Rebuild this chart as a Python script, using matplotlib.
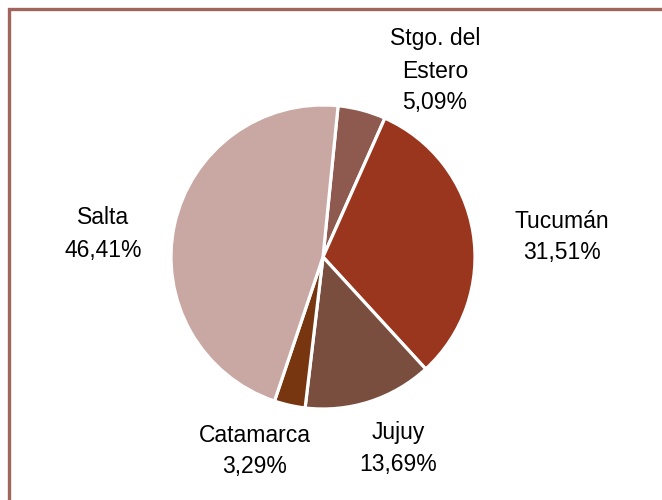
import matplotlib.pyplot as plt
from matplotlib.patches import Rectangle

plt.rcParams['font.family'] = ['Liberation Sans', 'DejaVu Sans']

provincias = ['Stgo. del\nEstero', 'Tucumán', 'Jujuy', 'Catamarca', 'Salta']
porcentajes = [5.09, 31.51, 13.69, 3.29, 46.41]
colores = ['#8E5A50', '#9A361E', '#7A4E3E', '#77360F', '#C9A8A4']

# posiciones de las etiquetas (pixeles, origen abajo-izquierda)
pos_etiquetas = [(435, 429), (562, 263), (398, 51), (255, 49), (103, 266)]

fig = plt.figure(figsize=(6.62, 5), dpi=100)
ax = fig.add_axes([0, 0, 1, 1])

ax.pie(porcentajes, colors=colores, startangle=84.3, counterclock=False,
       center=(323, 243), radius=152,
       wedgeprops=dict(edgecolor='white', linewidth=2.3))
ax.set_xlim(0, 662)
ax.set_ylim(0, 500)
ax.set_aspect('auto')
ax.axis('off')

for nombre, p, (x, y) in zip(provincias, porcentajes, pos_etiquetas):
    txt = nombre + '\n' + f'{p:.2f}'.replace('.', ',') + '%'
    ax.text(x, y, txt, ha='center', va='center', fontsize=16.5,
            linespacing=1.5, color='black')

# marco
ax.add_patch(Rectangle((8.5, -20), 700, 511, fill=False,
                       edgecolor='#A0665C', linewidth=2.4, clip_on=False))

fig.savefig('out.png', dpi=100)
